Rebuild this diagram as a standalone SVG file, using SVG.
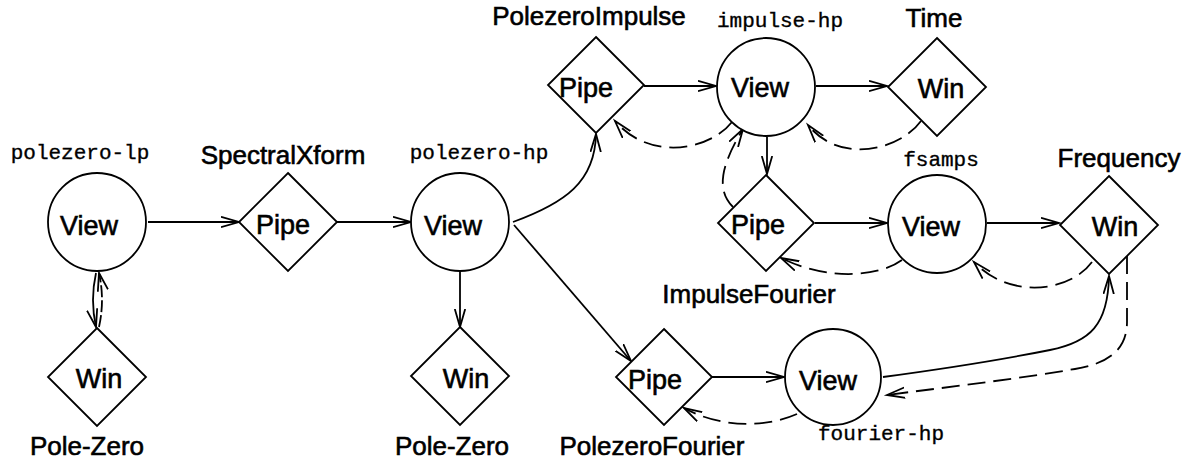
<svg xmlns="http://www.w3.org/2000/svg" width="1186" height="462" viewBox="0 0 1186 462">
<style>
.n{fill:#fff;stroke:#000;stroke-width:1.8}
.t{font-family:"Liberation Sans",Arial,Helvetica,sans-serif;font-size:26px;fill:#000;stroke:#000;stroke-width:0.6;text-anchor:middle}
.in{font-size:27px}
.m{font-family:"Liberation Mono","Courier New",monospace;font-size:21px;fill:#000;stroke:#000;stroke-width:0.35;text-anchor:middle}
.c{fill:none;stroke:#000;stroke-width:1.8;marker-end:url(#ah)}
.d{stroke-dasharray:18 8}
</style>
<defs>
<marker id="ah" markerUnits="userSpaceOnUse" markerWidth="24" markerHeight="14" refX="18" refY="6" orient="auto">
<path d="M0,0.8 L18,6 L0,11.2" fill="none" stroke="#000" stroke-width="1.8"/>
</marker>
</defs>
<g id="connectors">
<path class="c" d="M148,222 L239,222"/>
<path class="c" d="M96,273 Q90,300 96,327"/>
<path class="c" d="M99,327 Q105,300 99,273" stroke-dasharray="12 3"/>
<path class="c" d="M337,222 L411,222"/>
<path class="c" d="M460,272 L460,327"/>
<path class="c" d="M513,222 C565,203 595,182 596,134"/>
<path class="c" d="M514,225 L631,361"/>
<path class="c" d="M712,377 L784,377"/>
<path class="c d" d="M797,414 C765,428 720,428 684,408"/>
<path class="c" d="M644,86 L716,86"/>
<path class="c" d="M816,86 L887,86"/>
<path class="c d" d="M921,121 C900,150 840,165 808,125"/>
<path class="c d" d="M732,122 C710,150 650,162 615,121"/>
<path class="c" d="M767,137 L767,174"/>
<path class="c d" d="M733,207 C718,192 718,170 743,129"/>
<path class="c" d="M815,223 L887,223"/>
<path class="c d" d="M902,260 C880,276 830,282 781,258"/>
<path class="c" d="M987,223 L1059,223"/>
<path class="c d" d="M1092,262 C1070,292 1010,300 974,262"/>
<path class="c" d="M883,377 C950,368 1010,358 1050,350 C1090,342 1108,325 1109,276"/>
<path class="c d" d="M1127,256 L1127,322 C1127,352 1105,364 1075,369 C1010,380 940,388 887,395"/>
</g>
<g id="v-polezero-lp">
<circle class="n" cx="97" cy="222" r="49"/>
<text class="t in" x="89" y="235">View</text>
<text class="m" x="80" y="159">polezero-lp</text>
</g>
<g id="w-polezero-lp">
<path class="n" d="M97,328 L146,377 L97,426 L48,377 Z"/>
<text class="t in" x="99" y="388">Win</text>
<text class="t" x="87" y="455">Pole-Zero</text>
</g>
<g id="p-spectral">
<path class="n" d="M288,173 L337,222 L288,271 L239,222 Z"/>
<text class="t in" x="283" y="234">Pipe</text>
<text class="t" x="283" y="164">SpectralXform</text>
</g>
<g id="v-polezero-hp">
<circle class="n" cx="460" cy="222" r="49"/>
<text class="t in" x="453" y="235">View</text>
<text class="m" x="479" y="159">polezero-hp</text>
</g>
<g id="w-polezero-hp">
<path class="n" d="M460,327 L509,376 L460,425 L411,376 Z"/>
<text class="t in" x="466" y="388">Win</text>
<text class="t" x="452" y="455">Pole-Zero</text>
</g>
<g id="p-polezeroimpulse">
<path class="n" d="M596,37 L644,85 L596,133 L548,85 Z"/>
<text class="t in" x="586" y="97">Pipe</text>
<text class="t" x="589" y="25">PolezeroImpulse</text>
</g>
<g id="v-impulse-hp">
<circle class="n" cx="766" cy="87" r="49"/>
<text class="t in" x="760" y="97">View</text>
<text class="m" x="780" y="27">impulse-hp</text>
</g>
<g id="w-time">
<path class="n" d="M937,38 L986,87 L937,136 L888,87 Z"/>
<text class="t in" x="941" y="98">Win</text>
<text class="t" x="934" y="27">Time</text>
</g>
<g id="p-impulsefourier">
<path class="n" d="M766,175 L814,223 L766,271 L718,223 Z"/>
<text class="t in" x="758" y="234">Pipe</text>
<text class="t" x="749" y="303">ImpulseFourier</text>
</g>
<g id="v-fsamps">
<circle class="n" cx="937" cy="224" r="49"/>
<text class="t in" x="931" y="236">View</text>
<text class="m" x="941" y="166">fsamps</text>
</g>
<g id="w-frequency">
<path class="n" d="M1109,176 L1158,225 L1109,274 L1060,225 Z"/>
<text class="t in" x="1115" y="236">Win</text>
<text class="t" x="1119" y="167">Frequency</text>
</g>
<g id="p-polezerofourier">
<path class="n" d="M664,329 L712,377 L664,425 L616,377 Z"/>
<text class="t in" x="655" y="389">Pipe</text>
<text class="t" x="652" y="455">PolezeroFourier</text>
</g>
<g id="v-fourier-hp">
<circle class="n" cx="833" cy="377" r="48"/>
<text class="t in" x="828" y="390">View</text>
<text class="m" x="881" y="440">fourier-hp</text>
</g>
</svg>
